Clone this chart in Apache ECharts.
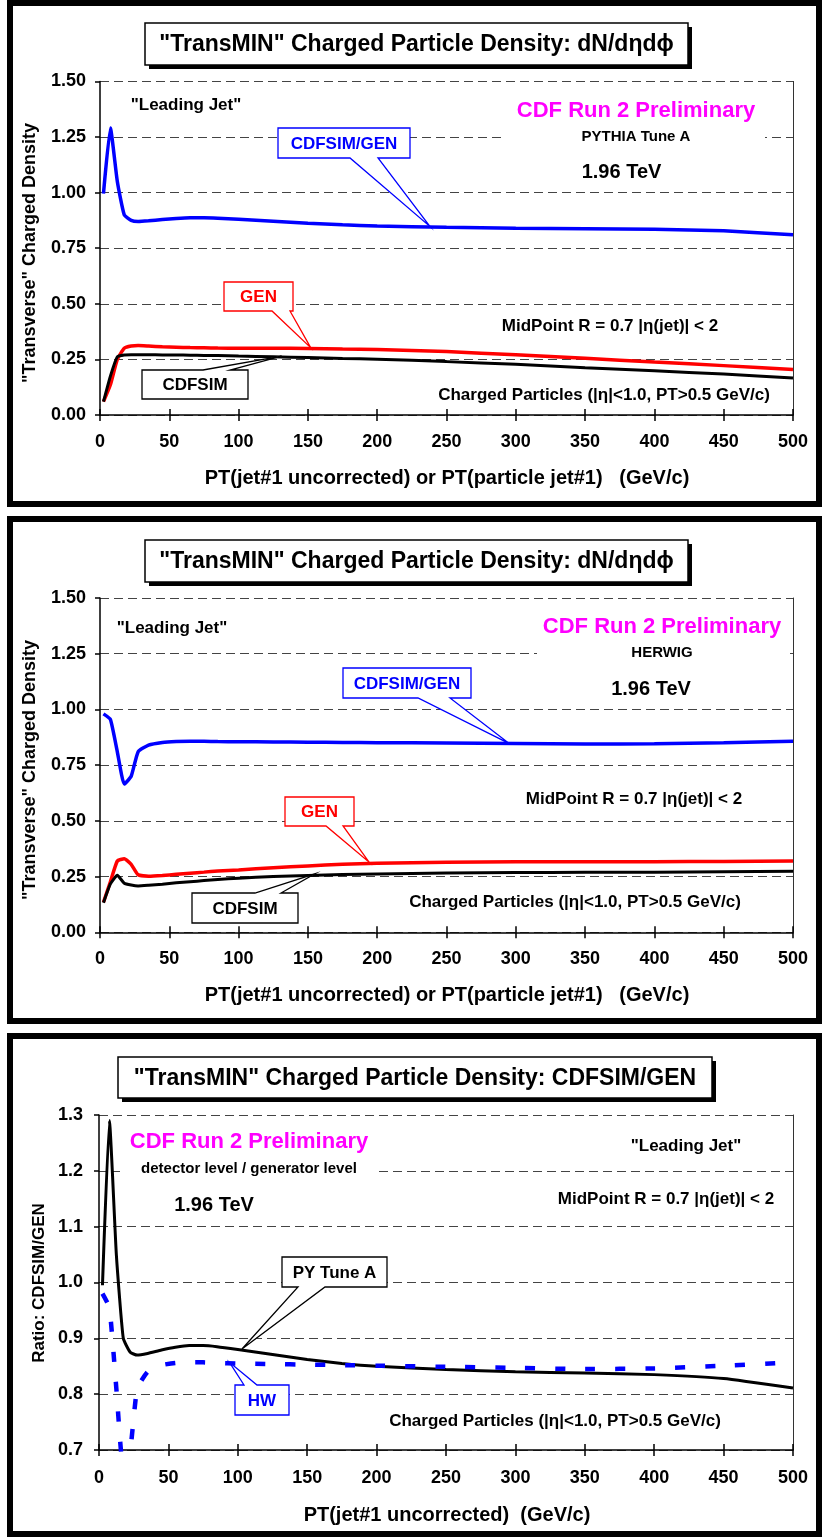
<!DOCTYPE html>
<html>
<head>
<meta charset="utf-8">
<script src="https://cdn.jsdelivr.net/npm/echarts@6/dist/echarts.min.js"></script>
<style>
  html, body { margin: 0; padding: 0; background: #fff; }
  #chart { width: 828px; height: 1538px; }
</style>
</head>
<body>
<div id="chart"></div>
<script>
// Leading-jet PT bins (GeV/c)
const PT = [2.5, 7.5, 12.5, 17.5, 22.5, 27.5, 35, 45, 55, 65, 75, 85, 100, 125, 150, 175, 200, 250, 300, 350, 400, 450, 500];

// PYTHIA Tune A: "transMIN" charged density, detector level (CDFSIM) and generator level (GEN)
const PY_GEN = [0.060, 0.136, 0.250, 0.300, 0.310, 0.312, 0.310, 0.307, 0.305, 0.303, 0.302, 0.301, 0.300, 0.300, 0.299, 0.297, 0.295, 0.285, 0.271, 0.255, 0.238, 0.222, 0.205];
const PY_SIM = [0.060, 0.175, 0.262, 0.270, 0.271, 0.271, 0.271, 0.270, 0.270, 0.269, 0.268, 0.267, 0.265, 0.262, 0.258, 0.254, 0.251, 0.240, 0.228, 0.213, 0.199, 0.184, 0.166];
const PY_RATIO = [0.995, 1.290, 1.050, 0.900, 0.875, 0.870, 0.873, 0.879, 0.884, 0.887, 0.887, 0.885, 0.880, 0.871, 0.862, 0.855, 0.850, 0.844, 0.840, 0.838, 0.835, 0.828, 0.811];

// HERWIG: same quantities
const HW_GEN = [0.135, 0.227, 0.320, 0.330, 0.305, 0.258, 0.252, 0.255, 0.260, 0.265, 0.270, 0.275, 0.280, 0.290, 0.298, 0.305, 0.310, 0.314, 0.316, 0.316, 0.317, 0.318, 0.320];
const HW_SIM = [0.133, 0.217, 0.256, 0.220, 0.212, 0.208, 0.211, 0.216, 0.222, 0.227, 0.232, 0.237, 0.243, 0.250, 0.255, 0.259, 0.262, 0.266, 0.268, 0.269, 0.270, 0.272, 0.274];
const HW_RATIO = [0.980, 0.955, 0.810, 0.665, 0.700, 0.810, 0.840, 0.852, 0.856, 0.857, 0.857, 0.856, 0.855, 0.854, 0.853, 0.852, 0.851, 0.849, 0.847, 0.845, 0.846, 0.851, 0.857];

// Axis ranges
const X_RANGE = { min: 0, max: 500, interval: 50 };
const Y_DENSITY = { min: 0, max: 1.5, interval: 0.25 };
const Y_RATIO = { min: 0.7, max: 1.3, interval: 0.1 };

const FONT = '"Liberation Sans", Arial, Helvetica, sans-serif';
const BLUE = '#0000ff', RED = '#ff0000', BLACK = '#000000', MAGENTA = '#ff00ff';

const GRIDS = [
  { left: 100, top: 81.4, width: 693, height: 333.6 },
  { left: 100, top: 598, width: 693, height: 334.3 },
  { left: 99, top: 1115, width: 694, height: 335 }
];

const pairs = (ys) => PT.map((x, i) => [x, ys[i]]);

function xAxesFor(i, labelMargin) {
  return [
    {
      gridIndex: i, type: 'value', ...X_RANGE, position: 'bottom',
      axisLine: { onZero: false, lineStyle: { color: '#000', width: 1.5 } },
      axisTick: { length: 6, lineStyle: { color: '#000', width: 1.5 } },
      axisLabel: { color: '#000', fontFamily: FONT, fontWeight: 'bold', fontSize: 18, margin: labelMargin },
      splitLine: { show: false }
    },
    {
      gridIndex: i, type: 'value', ...X_RANGE, position: 'bottom',
      axisLine: { show: false },
      axisTick: { inside: true, length: 6, lineStyle: { color: '#000', width: 1.5 } },
      axisLabel: { show: false },
      splitLine: { show: false }
    }
  ];
}

function yAxesFor(i, range, digits, labelMargin) {
  return [
    {
      gridIndex: i, type: 'value', ...range, position: 'left',
      axisLine: { show: true, onZero: false, lineStyle: { color: '#000', width: 1.5 } },
      axisTick: { show: true, length: 5, lineStyle: { color: '#000', width: 1.5 } },
      axisLabel: {
        color: '#000', fontFamily: FONT, fontWeight: 'bold', fontSize: 18, margin: labelMargin,
        formatter: (v) => v.toFixed(digits)
      },
      splitLine: { show: true, lineStyle: { color: '#444', width: 1, type: [9, 5] } }
    },
    {
      gridIndex: i, type: 'value', ...range, position: 'right',
      axisLine: { show: true, onZero: false, lineStyle: { color: '#333', width: 1 } },
      axisTick: { show: false }, axisLabel: { show: false }, splitLine: { show: false }
    }
  ];
}

function line(name, xi, yi, ys, color, width, dash) {
  return {
    name, type: 'line', xAxisIndex: xi, yAxisIndex: yi, data: pairs(ys),
    showSymbol: false, smooth: 0.15, clip: true,
    lineStyle: { color, width, type: dash || 'solid', cap: 'butt' },
    z: 3
  };
}

const chart = echarts.init(document.getElementById('chart'), null, { renderer: 'canvas' });

chart.setOption({
  animation: false,
  backgroundColor: '#fff',
  grid: GRIDS.map(g => ({ ...g, containLabel: false })),
  xAxis: [...xAxesFor(0, 18), ...xAxesFor(1, 18), ...xAxesFor(2, 19)],
  yAxis: [...yAxesFor(0, Y_DENSITY, 2, 14), ...yAxesFor(1, Y_DENSITY, 2, 14), ...yAxesFor(2, Y_RATIO, 1, 16)],
  series: [
    // PYTHIA Tune A densities and ratio
    line('CDFSIM/GEN', 0, 0, PY_RATIO, BLUE, 3.5),
    line('GEN', 0, 0, PY_GEN, RED, 3.5),
    line('CDFSIM', 0, 0, PY_SIM, BLACK, 3),
    // HERWIG densities and ratio
    line('CDFSIM/GEN', 2, 2, HW_RATIO, BLUE, 3.5),
    line('GEN', 2, 2, HW_GEN, RED, 3.5),
    line('CDFSIM', 2, 2, HW_SIM, BLACK, 3),
    // Ratio comparison
    line('PY Tune A', 4, 4, PY_RATIO, BLACK, 3),
    line('HW', 4, 4, HW_RATIO, BLUE, 4.5, [10, 20])
  ]
});

// ---- annotations ----
function txt(x, y, text, size, color, rotation) {
  return {
    type: 'text', x, y, rotation: rotation || 0, z: 120,
    style: {
      text, fill: color || '#000', fontSize: size, fontWeight: 'bold', fontFamily: FONT,
      align: 'center', verticalAlign: 'middle', textAlign: 'center', textVerticalAlign: 'middle'
    }
  };
}

function whiteBox(x0, y0, x1, y1) {
  return { type: 'rect', z: 110, shape: { x: x0, y: y0, width: x1 - x0, height: y1 - y0 }, style: { fill: '#fff', stroke: null } };
}

function frame(x, y, w, h) {
  return { type: 'rect', z: 130, shape: { x, y, width: w, height: h }, style: { fill: null, stroke: '#000', lineWidth: 6 } };
}

function titleBox(x0, y0, x1, y1, text) {
  return [
    { type: 'rect', z: 114, shape: { x: x0 + 4, y: y0 + 4, width: x1 - x0, height: y1 - y0 }, style: { fill: '#000' } },
    { type: 'rect', z: 115, shape: { x: x0, y: y0, width: x1 - x0, height: y1 - y0 }, style: { fill: '#fff', stroke: '#000', lineWidth: 1.5 } },
    txt((x0 + x1) / 2, (y0 + y1) / 2 + 1, text, 23, '#000')
  ];
}

// callout: box corners, wedge base on top or bottom edge, tip given in data coords
function callout(box, side, base, tipData, gridIdx, text, color) {
  const axes = { xAxisIndex: gridIdx * 2, yAxisIndex: gridIdx * 2 };
  const tip = chart.convertToPixel(axes, tipData);
  const [x0, y0, x1, y1] = box;
  let pts;
  if (side === 'bottom') {
    pts = [[x0, y0], [x1, y0], [x1, y1], [base[1], y1], tip, [base[0], y1], [x0, y1]];
  } else {
    pts = [[x0, y0], [base[0], y0], tip, [base[1], y0], [x1, y0], [x1, y1], [x0, y1]];
  }
  return [
    { type: 'polygon', z: 116, shape: { points: pts }, style: { fill: '#fff', stroke: color, lineWidth: 1.3 } },
    txt((x0 + x1) / 2, (y0 + y1) / 2 + 1, text, 17, color)
  ];
}

const ETA = '\u03b7';
const PHI = '\u03d5';

const graphics = [
  // panel frames
  frame(10, 3, 809, 501),
  frame(10, 519, 809, 502),
  frame(10, 1036, 809, 498),

  // ---------- panel 1: PYTHIA Tune A ----------
  ...titleBox(145, 23, 688, 65, '"TransMIN" Charged Particle Density: dN/d' + ETA + 'd' + PHI),
  txt(186, 105, '"Leading Jet"', 17),
  whiteBox(505, 96, 765, 147),
  txt(636, 111, 'CDF Run 2 Preliminary', 22, MAGENTA),
  txt(636, 137, 'PYTHIA Tune A', 15),
  txt(621.5, 172, '1.96 TeV', 20),
  txt(610, 326, 'MidPoint R = 0.7 |' + ETA + '(jet)| < 2', 17),
  txt(604, 395, 'Charged Particles (|' + ETA + '|<1.0, PT>0.5 GeV/c)', 17),
  txt(30, 253, '"Transverse" Charged Density', 18, '#000', Math.PI / 2),
  txt(447, 478, 'PT(jet#1 uncorrected) or PT(particle jet#1)   (GeV/c)', 20),
  ...callout([278, 128, 410, 158], 'bottom', [350, 378], [238, 0.848], 0, 'CDFSIM/GEN', BLUE),
  ...callout([224, 282, 293, 311], 'bottom', [272, 290], [152, 0.303], 0, 'GEN', RED),
  ...callout([142, 370, 248, 399], 'top', [203, 230], [131, 0.265], 0, 'CDFSIM', BLACK),

  // ---------- panel 2: HERWIG ----------
  ...titleBox(145, 540, 688, 582, '"TransMIN" Charged Particle Density: dN/d' + ETA + 'd' + PHI),
  txt(172, 628, '"Leading Jet"', 17),
  whiteBox(537, 612, 790, 665),
  txt(662, 627, 'CDF Run 2 Preliminary', 22, MAGENTA),
  txt(662, 653, 'HERWIG', 15),
  txt(651, 689, '1.96 TeV', 20),
  txt(634, 799, 'MidPoint R = 0.7 |' + ETA + '(jet)| < 2', 17),
  txt(575, 902, 'Charged Particles (|' + ETA + '|<1.0, PT>0.5 GeV/c)', 17),
  txt(30, 770, '"Transverse" Charged Density', 18, '#000', Math.PI / 2),
  txt(447, 995, 'PT(jet#1 uncorrected) or PT(particle jet#1)   (GeV/c)', 20),
  ...callout([343, 668, 471, 698], 'bottom', [418, 450], [295, 0.848], 1, 'CDFSIM/GEN', BLUE),
  ...callout([285, 797, 354, 826], 'bottom', [326, 343], [194, 0.316], 1, 'GEN', RED),
  ...callout([192, 893, 298, 923], 'top', [255, 281], [155, 0.262], 1, 'CDFSIM', BLACK),

  // ---------- panel 3: ratio ----------
  ...titleBox(118, 1057, 712, 1098, '"TransMIN" Charged Particle Density: CDFSIM/GEN'),
  whiteBox(120, 1127, 377, 1182),
  txt(249, 1142, 'CDF Run 2 Preliminary', 22, MAGENTA),
  txt(249, 1169, 'detector level / generator level', 15),
  txt(214, 1205, '1.96 TeV', 20),
  txt(686, 1146, '"Leading Jet"', 17),
  txt(666, 1199, 'MidPoint R = 0.7 |' + ETA + '(jet)| < 2', 17),
  txt(555, 1421, 'Charged Particles (|' + ETA + '|<1.0, PT>0.5 GeV/c)', 17),
  txt(39, 1283, 'Ratio: CDFSIM/GEN', 17, '#000', Math.PI / 2),
  txt(447, 1515, 'PT(jet#1 uncorrected)  (GeV/c)', 20),
  ...callout([282, 1257, 387, 1287], 'bottom', [298, 325], [103, 0.881], 2, 'PY Tune A', BLACK),
  ...callout([235, 1385, 289, 1415], 'top', [244, 257], [94, 0.857], 2, 'HW', BLUE)
];

chart.setOption({ graphic: { elements: graphics } });
</script>
</body>
</html>
